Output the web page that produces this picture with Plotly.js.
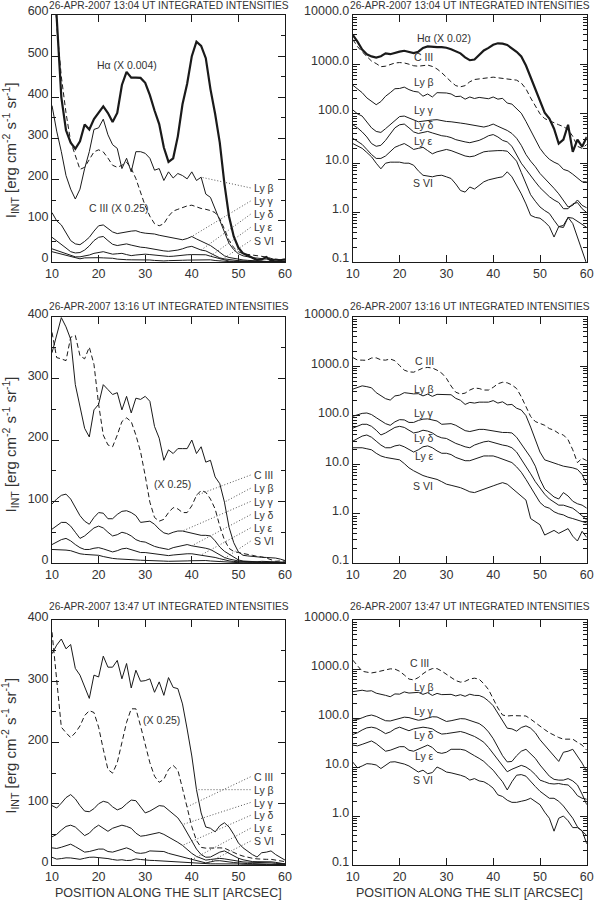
<!DOCTYPE html>
<html>
<head>
<meta charset="utf-8">
<script src="https://cdn.plot.ly/plotly-3.0.1.min.js"></script>
<style>
  html, body { margin: 0; padding: 0; background: #fff; }
  #chart { width: 600px; height: 905px; }
</style>
</head>
<body>
<div id="chart"></div>
<script>
// position along the slit, arcsec
const pos = [10,11,12,13,14,15,16,17,18,19,20,21,22,23,24,25,26,27,28,29,30,31,32,33,34,35,
  36,37,38,39,40,41,42,43,44,45,46,47,48,49,50,51,52,53,54,55,56,57,58,59,60];

// 13:04 UT, integrated intensities (erg cm-2 s-1 sr-1)
const t1304_ha = [197500,145000,100000,80000,72500,68800,73300,83500,80500,86800,
  90800,94500,90500,85000,90500,107500,115500,112000,112000,111800,
  108800,101300,92000,83800,69500,60800,63000,76300,95800,108300,
  125000,133800,131300,123800,105000,90000,72500,47500,27500,15500,
  8750,5250,4000,2500,1250,1500,3000,850,1500,1080,1700];
const t1304_c3 = [3200,2300,1800,1450,1170,1040,900,920,1000,1070,
  1090,1070,1010,940,920,940,970,910,810,680,
  545,445,372,352,372,445,495,512,528,545,
  552,536,520,512,500,480,420,320,210,140,
  100,80,72,66,60,55,48,35,22,20,24];
const t1304_lyb = [380,318,268,210,177,153,177,227,268,322,
  326,347,309,285,276,227,252,219,268,268,
  264,252,223,227,198,219,204,215,210,202,
  219,198,206,165,157,128,103,70,45,30,
  20,15,12,10.5,9.5,7.5,7,6,5,4.2,4.2];
const t1304_lyg = [120,100,90,70,52,44,42,50,60,75,
  88,90,82,73,69,71,74,75,76,72,
  70,69,68,65,63,61,59,57,54,57,
  62,56,51,46,40,32,23,15,11,8.5,
  6.2,5,4,3.1,2.4,1.8,1.3,1.4,1.8,1.4,1.25];
const t1304_lyd = [60,52,43,34,25,22,23,29,39,52,
  60,62,52,43,40,42,44,41,38,36,
  35,33,30,28,27,26,27,29,32,36,
  38,34,29,27,22,15,10,7.5,5.5,4.2,
  3.2,2.6,2.1,1.8,1.6,1.2,1.2,1.5,1.6,1.2,1.0];
const t1304_lye = [32,28,24,19,15,12.5,12.5,14,17,21,
  23,25,22,19,20,21,18,15.5,17,18,
  19,18,16.5,15.5,14,13.5,14,15.5,17,17.5,
  18,18,18,17.5,14,11,6.5,3.9,2.3,1.7,
  1.3,1.1,0.96,0.7,0.52,0.55,0.8,0.77,0.66,0.58,0.5];
const t1304_s6 = [25,22,20,16.5,13.5,10,7.7,10,10.5,10.5,
  10.5,10,10,9.1,7,5.7,5.5,5.3,5.6,5.7,
  5.3,4.9,3.8,2.8,2.6,3.3,3.0,3.6,4.2,4.6,
  4.9,5.1,5.3,6.7,5.3,3.6,2.4,1.5,0.88,0.8,
  0.77,0.65,0.52,0.32,0.52,0.5,0.8,0.6,0.32,0.17,0.09];

// 13:16 UT
const t1316_c3 = [1500,1336,1328,1316,1468,1480,1348,1328,1404,1292,
  1032,832,768,756,832,920,944,920,832,724,
  568,396,296,272,284,328,360,352,328,328,
  372,440,472,460,416,352,240,150,95,75,
  68,63,54,50,43,40,32,20,11,13.5,12];
const t1316_lyb = [342,373,399,384,364,290,252,219,205,249,
  258,290,282,274,277,249,271,244,268,266,
  271,263,222,203,167,184,178,186,186,186,
  200,178,189,164,167,140,129,99,58,33,
  18,12.5,11.5,10.5,10,9.3,9,8.6,8,6.3,4];
const t1316_lyg = [96,104,110,112,104,90,77,68,63,74,
  82,81,72,72,79,84,85,82,77,66,
  67,68,63,55,49,47,50,52,52,50,
  49,47,45,45,44,36,26,19,14,9.3,
  5,3.2,2.7,2.2,2.0,2.7,2.3,1.8,1.6,1.5,1.3];
const t1316_lyd = [55,60,66,66,60,50,40,44,50,57,
  60,57,50,44,46,50,48,44,38,35,
  34,30,27,25,23,22,25,27,29,30,
  28,27,25,24,22,18,13,9,6.5,4.5,
  3.3,2.5,2.0,1.7,1.5,1.5,1.4,1.3,1.1,0.9,0.75];
const t1316_lye = [30,34,38,40,36,30,25,22,22,24,
  25,23,20,18,20,23,24,22,19,17,
  17,16,14,13,12,12,13,14,15,15,
  15,14,13,12,11,9,7,5,3.5,2.5,
  1.7,1.4,1.3,1.1,1.0,0.95,0.85,0.8,0.75,0.7,0.65];
const t1316_s6 = [22,22,22,21,20,17,15,14,13.5,13,
  12.5,10.5,8.6,7.5,6.7,6.0,5.6,5.3,5.0,4.5,
  4.0,3.8,3.6,3.4,3.1,2.8,2.7,2.9,3.2,3.4,
  3.7,4.0,4.3,4.0,3.3,2.7,2.3,1.9,0.8,0.7,
  0.6,0.37,0.42,0.46,0.4,0.45,0.5,0.35,0.28,0.44,0.33];

// 13:47 UT
const t1347_c3 = [1520,1196,900,864,832,864,908,976,1008,996,
  900,756,624,600,668,800,932,1020,1020,908,
  780,668,580,540,560,624,650,620,500,380,
  250,160,115,110,112,112,112,110,95,80,
  68,58,50,44,40,37,37,37,32,28,22];
const t1347_lyb = [345,359,369,353,360,321,310,290,272,310,
  307,341,323,323,334,304,329,289,318,300,
  301,304,282,299,277,306,290,288,263,222,
  178,123,85,62,60,54,64,69,62,50,
  36,28,22,17,13,20,21,23,17,12,8];
const t1347_lyg = [97,93,101,110,115,108,97,88,87,92,
  100,104,102,95,90,93,100,106,105,95,
  85,88,93,97,96,90,83,77,66,52,
  38,26,17,12.7,13,17,21,23,19,15,
  11,8.5,6.5,5.6,5.4,5.4,5.8,5.2,4.3,2.8,1.7];
const t1347_lyd = [46,50,57,63,65,62,55,48,52,60,
  65,60,55,60,63,65,63,60,52,47,
  48,50,52,53,50,46,42,37,32,25,
  19,14,11,8,9,10,10.8,10,8.6,7,
  5.4,5.0,4.6,4.5,4.6,4.4,4.3,3.5,2.6,2.3,2.2];
const t1347_lye = [28,27,29,32,34,30,25,21,22,24,
  26,26,22,21,23,26,28,25,20,19,
  20,23,23,23,22,19,17,15,13,10.5,
  8.6,6.5,5,3.4,5,6.8,7,6.5,5,4,
  3.2,2.7,2.3,2.3,2.0,1.6,1.2,0.9,0.6,0.5,0.4];
const t1347_s6 = [12.6,9.6,10.5,11.7,11.5,11,9.3,11,12.6,12.8,
  12.2,11.5,10.5,9,7.9,8.6,7.3,7.7,10,9,
  7.9,7.6,7.3,6.8,6.3,5.4,5.8,5.2,5,4.4,
  3.7,2.7,2.5,2.1,1.9,1.9,2.0,2.1,2.3,2.0,
  1.7,1.2,0.9,0.49,0.9,1.0,0.8,0.58,0.58,0.5,0.27];

const times = ['13:04', '13:16', '13:47'];
const xTicks = [10, 20, 30, 40, 50, 60];
const logTicks = [0.1, 1, 10, 100, 1000, 10000];
const logTickText = ['0.1', '1.0', '10.0', '100.0', '1000.0', '10000.0'];

const FONT = '"Liberation Sans", Arial, sans-serif';
const INK = '#1a1a1a';
const TXT = '#333';

const xDom = [[0.0867, 0.475], [0.588, 0.978]];
const yDom = [[0.7105, 0.9834], [0.3779, 0.6497], [0.0442, 0.3149]];

const traces = [];
const shapes = [];
const annotations = [];

function axId(n) { return n === 1 ? '' : String(n); }

function addLine(n, y, scale, width, dash) {
  traces.push({
    x: pos,
    y: y.map(v => v * scale),
    xaxis: 'x' + axId(n),
    yaxis: 'y' + axId(n),
    type: 'scatter',
    mode: 'lines',
    line: {color: INK, width: width, dash: dash || 'solid'},
    hoverinfo: 'skip',
    showlegend: false
  });
}

function label(n, x, y, text, anchor) {
  annotations.push({
    xref: 'x' + axId(n), yref: 'y' + axId(n), x: x, y: y, text: text,
    showarrow: false, xanchor: anchor || 'center', yanchor: 'middle',
    font: {family: FONT, size: 10.5, color: TXT}
  });
}

// right-hand panels are log, so the label height goes in as log10
function logLabel(n, x, v, text) { label(n, x, Math.log10(v), text); }

// dotted leader from a line name to its curve
function leader(n, yLab, series, scale, xt) {
  const i = pos.indexOf(xt);
  shapes.push({
    type: 'line', xref: 'x' + axId(n), yref: 'y' + axId(n),
    x0: 52.6, y0: yLab, x1: xt, y1: series[i] * scale,
    line: {color: '#555', width: 1, dash: '1px,2px'}
  });
}

// row 1: 13:04
addLine(1, t1304_ha, 0.004, 2.2);
addLine(1, t1304_c3, 0.25, 1, '5px,3px');
[t1304_lyb, t1304_lyg, t1304_lyd, t1304_lye, t1304_s6].forEach(s => addLine(1, s, 1, 1));
addLine(2, t1304_ha, 0.02, 2.2);
addLine(2, t1304_c3, 1, 1, '5px,3px');
[t1304_lyb, t1304_lyg, t1304_lyd, t1304_lye, t1304_s6].forEach(s => addLine(2, s, 1, 1));

// row 2: 13:16
addLine(3, t1316_c3, 0.25, 1, '5px,3px');
[t1316_lyb, t1316_lyg, t1316_lyd, t1316_lye, t1316_s6].forEach(s => addLine(3, s, 1, 1));
addLine(4, t1316_c3, 1, 1, '5px,3px');
[t1316_lyb, t1316_lyg, t1316_lyd, t1316_lye, t1316_s6].forEach(s => addLine(4, s, 1, 1));

// row 3: 13:47
addLine(5, t1347_c3, 0.25, 1, '5px,3px');
[t1347_lyb, t1347_lyg, t1347_lyd, t1347_lye, t1347_s6].forEach(s => addLine(5, s, 1, 1));
addLine(6, t1347_c3, 1, 1, '5px,3px');
[t1347_lyb, t1347_lyg, t1347_lyd, t1347_lye, t1347_s6].forEach(s => addLine(6, s, 1, 1));

// labels, left panels
label(1, 19.3, 478, 'Hα (X 0.004)', 'left');
label(1, 17.4, 130, 'C III (X 0.25)', 'left');
const names1 = ['Ly β', 'Ly γ', 'Ly δ', 'Ly ε', 'S VI'];
const labY1 = [180, 148, 116, 84, 52];
const tgt1 = [42, 40, 42, 44, 46];
const ser1 = [t1304_lyb, t1304_lyg, t1304_lyd, t1304_lye, t1304_s6];
names1.forEach((t, i) => { label(1, 53, labY1[i], t, 'left'); leader(1, labY1[i], ser1[i], 1, tgt1[i]); });

label(3, 31.4, 129, '(X 0.25)', 'left');
const names2 = ['C III', 'Ly β', 'Ly γ', 'Ly δ', 'Ly ε', 'S VI'];
const labY2 = [143, 121.5, 100, 78.5, 57, 35.5];
const tgt2 = [41, 47, 38, 40, 42, 46];
const ser2 = [t1316_c3, t1316_lyb, t1316_lyg, t1316_lyd, t1316_lye, t1316_s6];
names2.forEach((t, i) => { label(3, 53, labY2[i], t, 'left'); leader(3, labY2[i], ser2[i], i === 0 ? 0.25 : 1, tgt2[i]); });

label(5, 29.2, 236, '(X 0.25)', 'left');
const labY3 = [144, 123, 102, 81, 60, 39];
const tgt3 = [39, 41, 38, 38, 40, 43];
const ser3 = [t1347_c3, t1347_lyb, t1347_lyg, t1347_lyd, t1347_lye, t1347_s6];
names2.forEach((t, i) => { label(5, 53, labY3[i], t, 'left'); leader(5, labY3[i], ser3[i], i === 0 ? 0.25 : 1, tgt3[i]); });

// labels, log panels
logLabel(2, 29.5, 3380, 'Hα (X 0.02)');
logLabel(2, 25.2, 1430, 'C III');
logLabel(2, 25.2, 445, 'Ly β');
logLabel(2, 25.2, 119, 'Ly γ');
logLabel(2, 25.2, 59, 'Ly δ');
logLabel(2, 25.2, 28, 'Ly ε');
logLabel(2, 25.0, 3.9, 'S VI');

logLabel(4, 25.3, 1260, 'C III');
logLabel(4, 25.3, 341, 'Ly β');
logLabel(4, 25.3, 111, 'Ly γ');
logLabel(4, 25.3, 34, 'Ly δ');
logLabel(4, 25.3, 15, 'Ly ε');
logLabel(4, 25.1, 3.7, 'S VI');

logLabel(6, 24.2, 1300, 'C III');
logLabel(6, 25.3, 428, 'Ly β');
logLabel(6, 25.3, 138, 'Ly γ');
logLabel(6, 25.3, 45, 'Ly δ');
logLabel(6, 25.3, 17, 'Ly ε');
logLabel(6, 25.0, 5.4, 'S VI');

// panel titles and axis titles
const titleY = [0.9936, 0.6615, 0.3295];
const ytitleY = [0.834, 0.509, 0.176];
const colX = [0.281, 0.783];
times.forEach((t, r) => {
  colX.forEach(cx => annotations.push({
    xref: 'paper', yref: 'paper', x: cx, y: titleY[r], xanchor: 'center', yanchor: 'middle',
    text: '26-APR-2007 ' + t + ' UT INTEGRATED INTENSITIES', showarrow: false,
    font: {family: FONT, size: 10.2, color: TXT}
  }));
  annotations.push({
    xref: 'paper', yref: 'paper', x: 0.0167, y: ytitleY[r], xanchor: 'center', yanchor: 'middle',
    textangle: -90, showarrow: false,
    text: 'I<sub>INT</sub> [erg cm<sup>-2</sup> s<sup>-1</sup> sr<sup>-1</sup>]',
    font: {family: FONT, size: 15, color: TXT}
  });
});
colX.forEach(cx => annotations.push({
  xref: 'paper', yref: 'paper', x: cx, y: 0.0133, xanchor: 'center', yanchor: 'middle',
  text: 'POSITION ALONG THE SLIT [ARCSEC]', showarrow: false,
  font: {family: FONT, size: 12.5, color: TXT}
}));

const logMinor = [];
[0.1, 1, 10, 100, 1000].forEach(d => { for (let k = 2; k <= 9; k++) logMinor.push(d * k); });

const layout = {
  width: 600,
  height: 905,
  margin: {t: 0, l: 0, r: 0, b: 0, pad: 0},
  paper_bgcolor: '#fff',
  plot_bgcolor: '#fff',
  showlegend: false,
  shapes: shapes,
  annotations: annotations
};

for (let n = 1; n <= 6; n++) {
  const row = Math.floor((n - 1) / 2);
  const col = (n - 1) % 2;
  const shift = row === 0 ? -4 : -3;
  const common = {
    ticks: 'inside', ticklen: 7, tickcolor: INK, tickwidth: 1,
    showline: true, linecolor: INK, linewidth: 1, mirror: 'allticks',
    showgrid: false, zeroline: false, fixedrange: true,
    tickfont: {family: FONT, size: 12.5, color: TXT}
  };
  layout['xaxis' + axId(n)] = Object.assign({}, common, {
    domain: xDom[col], anchor: 'y' + axId(n), range: [10, 60],
    tickmode: 'array', tickvals: xTicks
  });
  if (col === 0) {
    layout['yaxis' + axId(n)] = Object.assign({}, common, {
      domain: yDom[row], anchor: 'x' + axId(n),
      range: [0, row === 0 ? 600 : 400], dtick: 100, ticklabelshift: shift,
      minor: {dtick: 50, ticks: 'inside', ticklen: 4, tickcolor: INK}
    });
  } else {
    layout['yaxis' + axId(n)] = Object.assign({}, common, {
      domain: yDom[row], anchor: 'x' + axId(n),
      type: 'log', range: [-1, 4], ticklabelshift: shift,
      tickmode: 'array', tickvals: logTicks, ticktext: logTickText,
      minor: {tickmode: 'array', tickvals: logMinor, ticks: 'inside', ticklen: 4, tickcolor: INK}
    });
  }
}

Plotly.newPlot('chart', traces, layout, {displayModeBar: false, staticPlot: true});
</script>
</body>
</html>
